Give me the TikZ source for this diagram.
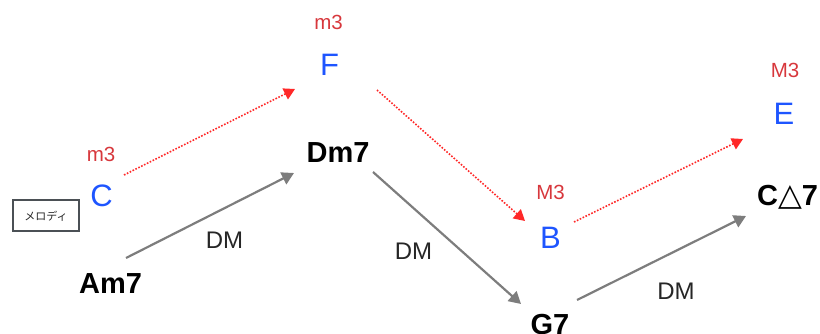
\documentclass[tikz,border=0pt]{standalone}
\usepackage{fontspec}
\setmainfont{Liberation Sans}
\newfontfamily\jpfont{Noto Sans CJK JP}
\newfontfamily\symfont{DejaVu Sans}
\usetikzlibrary{arrows.meta}

\definecolor{noteblue}{RGB}{30,85,255}
\definecolor{intred}{RGB}{215,55,60}
\definecolor{dotred}{RGB}{255,40,40}
\definecolor{arrowgray}{RGB}{125,125,125}
\definecolor{boxgray}{RGB}{75,80,85}

\tikzset{
  chord/.style={anchor=base, inner sep=0pt, font=\fontsize{29}{29}\selectfont\bfseries, text=black},
  note/.style={anchor=base, inner sep=0pt, font=\fontsize{31}{31}\selectfont, text=noteblue},
  interval/.style={anchor=base, inner sep=0pt, font=\fontsize{20.5}{20.5}\selectfont, text=intred},
  dmlabel/.style={anchor=base, inner sep=0pt, font=\fontsize{24}{24}\selectfont, text=black!85},
  progression/.style={draw=arrowgray, line width=2.2pt,
    -{Triangle[length=12pt,width=13pt]}},
  melodyline/.style={draw=dotred, line width=1.6pt, dash pattern=on 1.6pt off 1.6pt,
    -{Triangle[length=11pt,width=12pt]}},
  tagbox/.style={draw=boxgray, line width=2pt, minimum width=66pt, minimum height=31pt,
    inner sep=0pt, font=\jpfont\fontsize{11}{11}\selectfont, text=black!85}
}

\begin{document}
\begin{tikzpicture}[x=1pt,y=-1pt]
  \useasboundingbox (0,0) rectangle (820,334);

  % chords
  \node[chord] (am7) at (110.5,293) {Am7};
  \node[chord] (dm7) at (338,163) {Dm7};
  \node[chord] (g7)  at (550,334) {G7};
  \node[chord, anchor=base west] (cmaj7) at (757,205) {C{\symfont\mdseries\fontsize{31}{31}\selectfont △}7};

  % melody notes
  \node[note] (nc) at (101.5,207) {C};
  \node[note] (nf) at (329.5,76) {F};
  \node[note] (nb) at (550.5,248) {B};
  \node[note] (ne) at (784,125) {E};

  % intervals above the notes
  \node[interval] (ic) at (101,162) {m3};
  \node[interval] (if) at (328.5,30) {m3};
  \node[interval] (ib) at (550.5,200) {M3};
  \node[interval] (ie) at (785,78) {M3};

  % label box
  \node[tagbox] (tag) at (46,216) {メロディ};

  % chord progression
  \draw[progression] ([xshift=15.5pt,yshift=35pt]am7.base) -- ([xshift=-44pt,yshift=-10pt]dm7.base);
  \draw[progression] ([xshift=35pt,yshift=-9pt]dm7.base) -- ([xshift=-29pt,yshift=30pt]g7.base);
  \draw[progression] ([xshift=27pt,yshift=34pt]g7.base) -- ([xshift=-11pt,yshift=-11pt]cmaj7.base west);

  % DM labels
  \node[dmlabel] (dm1) at (224.5,248) {DM};
  \node[dmlabel] (dm2) at (413.5,259) {DM};
  \node[dmlabel] (dm3) at (676,299) {DM};

  % melody motion
  \draw[melodyline] ([xshift=22.5pt,yshift=32pt]nc.base) -- ([xshift=-34.5pt,yshift=-13pt]nf.base);
  \draw[melodyline] ([xshift=47.5pt,yshift=-14pt]nf.base) -- ([xshift=-25.5pt,yshift=27pt]nb.base);
  \draw[melodyline] ([xshift=23.5pt,yshift=26pt]nb.base) -- ([xshift=-41pt,yshift=-14pt]ne.base);
\end{tikzpicture}
\end{document}
